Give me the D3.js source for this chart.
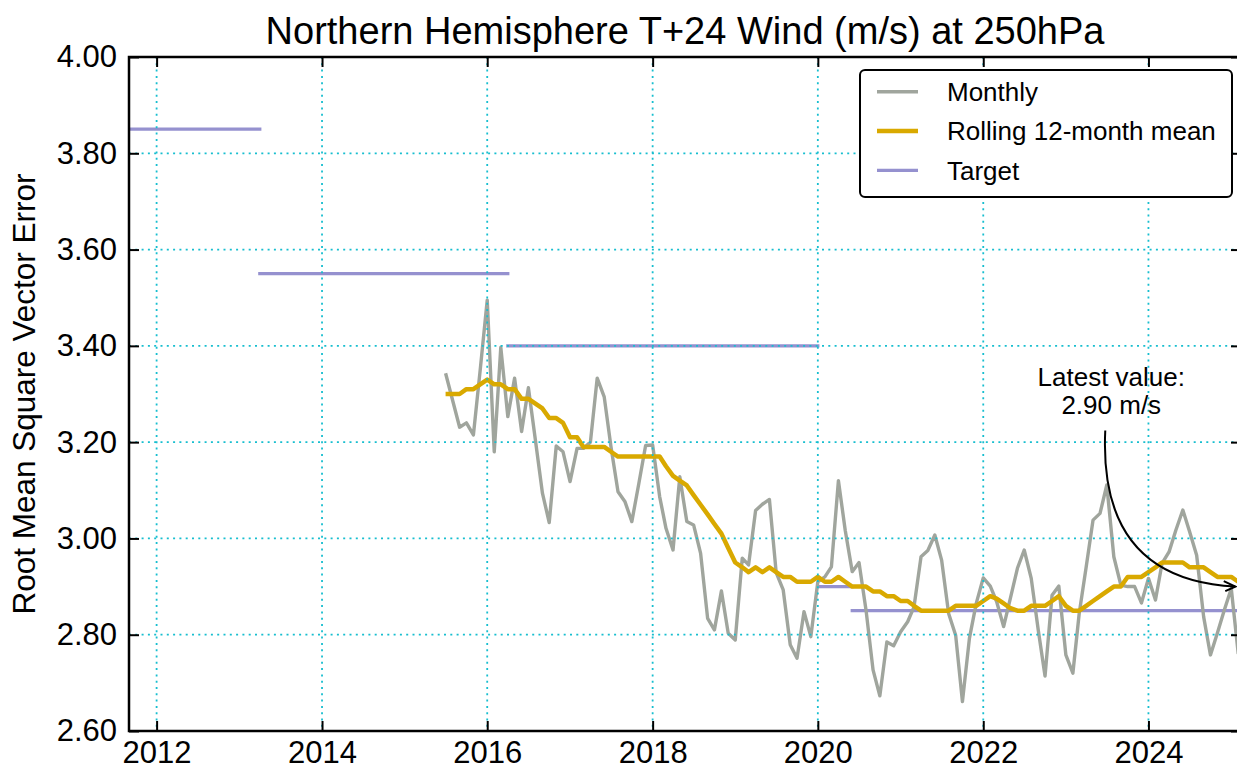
<!DOCTYPE html>
<html>
<head>
<meta charset="utf-8">
<script src="https://d3js.org/d3.v7.min.js"></script>
<style>
  body { margin: 0; background: #fff; }
  svg text { font-family: "Liberation Sans", Arial, Helvetica, sans-serif; fill: #000; }
  .grid line { stroke: #17becf; stroke-width: 1.8; stroke-dasharray: 2, 4.3; }
  .axis path { display: none; }
  .axis line { stroke: #000; stroke-width: 2; }
  .axis text { font-size: 31px; }
</style>
</head>
<body>
<svg id="chart" width="1237" height="768"></svg>
<script>
// monthly values, first point July 2015
var startMonth = "2015-07-01";
var monthly = [
  3.343, 3.287, 3.231, 3.240, 3.215, 3.350, 3.495, 3.180, 3.397, 3.253, 3.333, 3.222,
  3.313, 3.204, 3.094, 3.033, 3.192, 3.180, 3.118, 3.187, 3.187, 3.200, 3.333, 3.294,
  3.190, 3.097, 3.076, 3.035, 3.114, 3.193, 3.194, 3.087, 3.021, 2.976, 3.128, 3.035,
  3.028, 2.969, 2.834, 2.810, 2.891, 2.803, 2.789, 2.959, 2.945, 3.058, 3.071, 3.081,
  2.929, 2.893, 2.779, 2.751, 2.848, 2.796, 2.910, 2.920, 2.941, 3.120, 3.017, 2.931,
  2.950, 2.851, 2.727, 2.673, 2.785, 2.777, 2.806, 2.827, 2.858, 2.962, 2.975, 3.007,
  2.955, 2.844, 2.799, 2.661, 2.793, 2.865, 2.918, 2.901, 2.869, 2.817, 2.876, 2.938,
  2.976, 2.917, 2.810, 2.714, 2.882, 2.901, 2.758, 2.720, 2.844, 2.941, 3.038, 3.052,
  3.111, 2.962, 2.903, 2.900, 2.900, 2.866, 2.917, 2.872, 2.948, 2.972, 3.017, 3.059,
  3.014, 2.965, 2.837, 2.758, 2.804, 2.851, 2.896, 2.760
];
var rolling = [
  3.30, 3.30, 3.30, 3.31, 3.31, 3.32, 3.33, 3.32, 3.32, 3.31, 3.31, 3.29,
  3.29, 3.28, 3.27, 3.25, 3.25, 3.24, 3.21, 3.21, 3.19, 3.19, 3.19, 3.19,
  3.18, 3.17, 3.17, 3.17, 3.17, 3.17, 3.17, 3.17, 3.15, 3.13, 3.12, 3.11,
  3.09, 3.07, 3.05, 3.03, 3.01, 2.98, 2.95, 2.94, 2.93, 2.94, 2.93, 2.94,
  2.93, 2.92, 2.92, 2.91, 2.91, 2.91, 2.92, 2.91, 2.91, 2.92, 2.91, 2.90,
  2.90, 2.90, 2.89, 2.89, 2.88, 2.88, 2.87, 2.87, 2.86, 2.85, 2.85, 2.85,
  2.85, 2.85, 2.86, 2.86, 2.86, 2.86, 2.87, 2.88, 2.875, 2.865, 2.855, 2.85,
  2.85, 2.86, 2.86, 2.86, 2.87, 2.88, 2.86, 2.85, 2.85, 2.86, 2.87, 2.88,
  2.89, 2.90, 2.90, 2.92, 2.92, 2.92, 2.93, 2.94, 2.95, 2.95, 2.95, 2.95,
  2.94, 2.94, 2.94, 2.93, 2.92, 2.92, 2.92, 2.91
];
// target periods
var targetStart = ["2010-04-01", "2013-04-01", "2016-04-01", "2020-01-01", "2020-06-01"];
var targetEnd   = ["2013-04-01", "2016-04-01", "2020-01-01", "2020-06-01", "2025-06-01"];
var targetValue = [3.85, 3.55, 3.40, 2.90, 2.85];

var yTicks = [2.6, 2.8, 3.0, 3.2, 3.4, 3.6, 3.8, 4.0];
var xTickYears = [2012, 2014, 2016, 2018, 2020, 2022, 2024];
var latestIndex = 114;
var latestLabel = ["Latest value:", "2.90 m/s"];

var parse = d3.utcParse("%Y-%m-%d");
var t0 = parse(startMonth);
var dates = monthly.map(function(d, i) { return d3.utcMonth.offset(t0, i); });

var mLeft = 129, mRight = 1241, mTop = 57, mBottom = 731;
var svg = d3.select("#chart");

var x = d3.scaleUtc()
  .domain([parse("2011-09-01"), parse("2025-02-13")])
  .range([mLeft, mRight]);
var y = d3.scaleLinear().domain([2.6, 4.0]).range([mBottom, mTop]);

svg.append("defs").append("clipPath").attr("id", "plotclip")
  .append("rect").attr("x", mLeft).attr("y", mTop)
  .attr("width", mRight - mLeft).attr("height", mBottom - mTop);

var plot = svg.append("g").attr("clip-path", "url(#plotclip)");

// targets
plot.selectAll(".target").data(targetValue).enter().append("line")
  .attr("class", "target")
  .attr("x1", function(d, i) { return x(parse(targetStart[i])); })
  .attr("x2", function(d, i) { return x(parse(targetEnd[i])); })
  .attr("y1", function(d) { return y(d); })
  .attr("y2", function(d) { return y(d); })
  .attr("stroke", "#9591cf").attr("stroke-width", 3.2).attr("stroke-linecap", "square");

var line = d3.line()
  .x(function(d, i) { return x(dates[i]); })
  .y(function(d) { return y(d); });

plot.append("path").datum(monthly)
  .attr("d", line).attr("fill", "none")
  .attr("stroke", "#a0a59d").attr("stroke-width", 3.4).attr("stroke-linejoin", "round");

plot.append("path").datum(rolling)
  .attr("d", line).attr("fill", "none")
  .attr("stroke", "#d9a900").attr("stroke-width", 4.5).attr("stroke-linejoin", "round");

// grid on top (classic style)
var xTicks = xTickYears.map(function(yr) { return new Date(Date.UTC(yr, 0, 1)); });
var grid = svg.append("g").attr("class", "grid");
grid.selectAll(".gx").data(xTicks).enter().append("line")
  .attr("x1", function(d) { return x(d); }).attr("x2", function(d) { return x(d); })
  .attr("y1", mTop).attr("y2", mBottom);
grid.selectAll(".gy").data(yTicks).enter().append("line")
  .attr("x1", mLeft).attr("x2", mRight)
  .attr("y1", function(d) { return y(d); }).attr("y2", function(d) { return y(d); });

// axes, ticks pointing in
svg.append("g").attr("class", "axis")
  .attr("transform", "translate(0," + mBottom + ")")
  .call(d3.axisBottom(x).tickValues(xTicks).tickFormat(d3.utcFormat("%Y"))
    .tickSizeInner(-10).tickSizeOuter(0).tickPadding(10));
svg.append("g").attr("class", "axis")
  .attr("transform", "translate(0," + mTop + ")")
  .call(d3.axisTop(x).tickValues(xTicks).tickFormat("")
    .tickSizeInner(-10).tickSizeOuter(0));
svg.append("g").attr("class", "axis")
  .attr("transform", "translate(" + mLeft + ",0)")
  .call(d3.axisLeft(y).tickValues(yTicks).tickFormat(d3.format(".2f"))
    .tickSizeInner(-10).tickSizeOuter(0).tickPadding(12));
svg.append("g").attr("class", "axis")
  .attr("transform", "translate(" + mRight + ",0)")
  .call(d3.axisRight(y).tickValues(yTicks).tickFormat("")
    .tickSizeInner(-10).tickSizeOuter(0));

svg.append("rect")
  .attr("x", mLeft).attr("y", mTop).attr("width", mRight - mLeft).attr("height", mBottom - mTop)
  .attr("fill", "none").attr("stroke", "#000").attr("stroke-width", 2.5);

// title and labels
svg.append("text").attr("x", (mLeft + mRight) / 2).attr("y", 43.5)
  .attr("text-anchor", "middle").style("font-size", "38px")
  .text("Northern Hemisphere T+24 Wind (m/s) at 250hPa");

svg.append("text")
  .attr("transform", "translate(35," + (mTop + mBottom) / 2 + ") rotate(-90)")
  .attr("text-anchor", "middle").style("font-size", "31.5px")
  .text("Root Mean Square Vector Error");

// annotation
var px = x(dates[latestIndex]) + 4, py = y(2.90);
var sx = px - 130, sy = py - 156;
svg.append("path")
  .attr("d", "M" + sx + "," + sy + " Q" + (sx - 7) + "," + (py - 7) + " " + px + "," + py)
  .attr("fill", "none").attr("stroke", "#000").attr("stroke-width", 2);
svg.append("path")
  .attr("d", "M" + (px - 11.5) + "," + (py - 5.5) + " L" + px + "," + py + " L" + (px - 10) + "," + (py + 4.5))
  .attr("fill", "none").attr("stroke", "#000").attr("stroke-width", 2);
svg.selectAll(".ann").data(latestLabel).enter().append("text")
  .attr("class", "ann")
  .attr("x", px - 124).attr("y", function(d, i) { return py - 201 + i * 28; })
  .attr("text-anchor", "middle").style("font-size", "26px")
  .text(function(d) { return d; });

// legend
var legendNames = ["Monthly", "Rolling 12-month mean", "Target"];
var legendColors = ["#a0a59d", "#d9a900", "#9591cf"];
var legendWidths = [3.4, 4.5, 3.2];
var lg = svg.append("g").attr("transform", "translate(860,70)");
lg.append("rect").attr("width", 372).attr("height", 127).attr("rx", 5)
  .attr("fill", "#fff").attr("stroke", "#000").attr("stroke-width", 2);
legendNames.forEach(function(name, i) {
  lg.append("line").attr("x1", 17).attr("x2", 58)
    .attr("y1", 21.7 + i * 39.3).attr("y2", 21.7 + i * 39.3)
    .attr("stroke", legendColors[i]).attr("stroke-width", legendWidths[i]);
  lg.append("text").attr("x", 87).attr("y", 31 + i * 39.3)
    .style("font-size", "26px").text(name);
});
</script>
</body>
</html>
